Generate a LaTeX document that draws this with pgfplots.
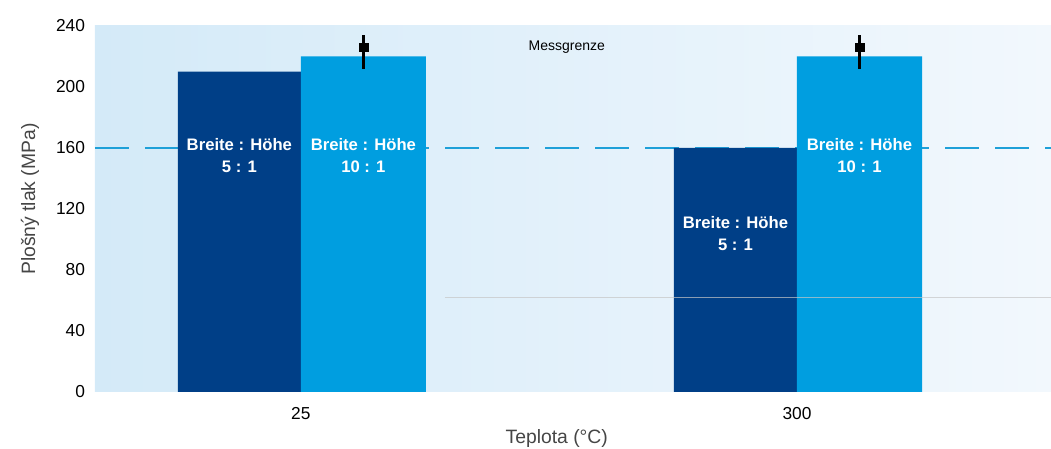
\documentclass[border=0pt]{standalone}
\usepackage{pgfplots}
\pgfplotsset{compat=1.18}
\usepackage{fontspec}
\setmainfont{Liberation Sans}
\definecolor{darkbar}{RGB}{0,63,135}
\definecolor{lightbar}{RGB}{0,158,224}
\definecolor{dashcol}{RGB}{30,160,216}
\definecolor{bgL}{RGB}{212,234,248}
\definecolor{bgR}{RGB}{242,248,253}
\definecolor{labgray}{RGB}{70,70,70}
\begin{document}
\begin{tikzpicture}
\useasboundingbox (-71.25pt,-42.75pt) rectangle (717pt,294pt);
\begin{axis}[
  at={(0pt,0pt)}, anchor=south west,
  scale only axis, width=717pt, height=274.5pt,
  xmin=-0.415, xmax=1.512, ymin=0, ymax=240,
  xtick={0,1}, xticklabels={25,300},
  ytick={0,40,80,120,160,200,240},
  axis line style={draw=none}, major tick length=0pt,
  tick label style={font=\fontsize{13}{15}\selectfont, text=black},
  /pgf/number format/assume math mode=true,
  yticklabel style={xshift=-4pt},
  xticklabel style={yshift=-8pt},
  axis background/.style={left color=bgL, right color=bgR},
  ylabel={Plošný tlak (MPa)}, xlabel={Teplota (°C)},
  label style={font=\fontsize{14.5}{16}\selectfont, text=labgray},
  ylabel style={at={(axis description cs:-0.068,0.527)}, anchor=center},
  xlabel style={at={(axis description cs:0.483,-0.128)}, anchor=center},
  clip=false,
]
\addplot[dashcol, line width=1pt, dash pattern=on 25.5pt off 12pt] coordinates {(-0.415,160) (1.512,160)};
\addplot[ybar, bar width=0.248, bar shift=0pt, fill=darkbar, draw=none] coordinates {(-0.124,210) (0.876,160)};
\addplot[ybar, bar width=0.252, bar shift=0pt, fill=lightbar, draw=none,
  error bars/.cd, y dir=both, y explicit, error mark=none,
  error bar style={line width=2.6pt, black}]
  table[x=x, y=y, y error plus=ep, y error minus=em] {
x y ep em
0.126 220 14 8
1.126 220 14 8
};
\addplot[only marks, mark=square*, mark size=3.3pt, black] coordinates {(0.126,226) (1.126,226)};
\addplot[gray!45, line width=0.8pt, opacity=0.7] coordinates {(0.29,62) (1.512,62)};
\node[font=\bfseries\fontsize{12.5}{17}\selectfont, text=white, align=center] at (axis cs:-0.124,155) {Breite : Höhe\\5 : 1};
\node[font=\bfseries\fontsize{12.5}{17}\selectfont, text=white, align=center] at (axis cs:0.126,155) {Breite : Höhe\\10 : 1};
\node[font=\bfseries\fontsize{12.5}{17}\selectfont, text=white, align=center] at (axis cs:0.876,104) {Breite : Höhe\\5 : 1};
\node[font=\bfseries\fontsize{12.5}{17}\selectfont, text=white, align=center] at (axis cs:1.126,155) {Breite : Höhe\\10 : 1};
\node[font=\fontsize{10.5}{12}\selectfont, text=black] at (axis cs:0.536,226) {Messgrenze};
\end{axis}
\end{tikzpicture}
\end{document}
